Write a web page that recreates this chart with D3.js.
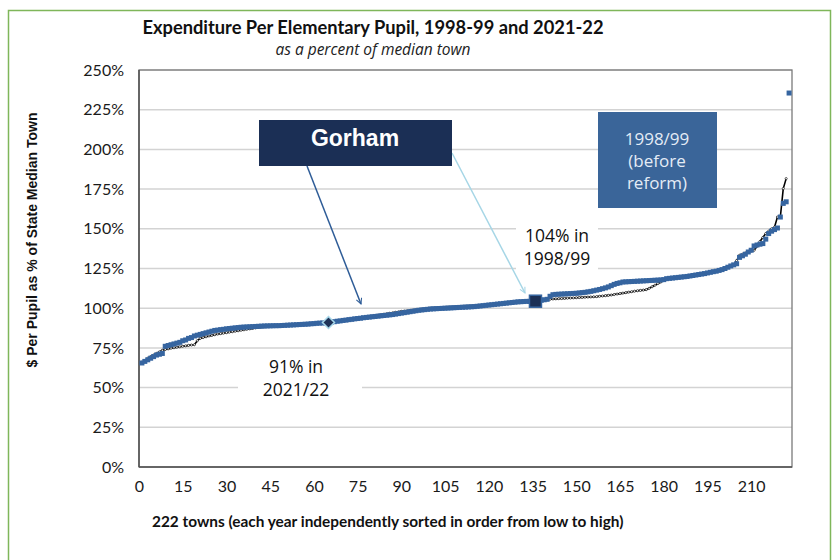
<!DOCTYPE html>
<html>
<head>
<meta charset="utf-8">
<script src="https://cdn.jsdelivr.net/npm/d3@7/dist/d3.min.js"></script>
<style>
  body { margin: 0; background: #fff; }
  svg { display: block; }
</style>
</head>
<body>
<svg id="chart" width="835" height="560"></svg>
<script>
/* Expenditure per elementary pupil, % of median town, towns ranked low to high */

// 1998/99 (before reform) - rank 1..n
const spend1998 = [
  65.5, 66.5, 67.5, 68.5, 69.5, 70.5, 71, 71.5,
  76, 76.5, 77, 77.5, 78, 78.5, 79.5, 80, 81, 81.5, 82.5, 83,
  83.5, 84, 84.5, 85, 85.5, 86, 86.2, 86.5, 86.7, 87, 87.2, 87.4, 87.6, 87.8, 88,
  88.1, 88.2, 88.3, 88.4, 88.5, 88.6, 88.7, 88.8, 88.85, 88.9, 88.95, 89.0, 89.0,
  89.1, 89.2, 89.3, 89.4, 89.5, 89.6, 89.7, 89.8, 89.9, 90.0, 90.2, 90.3, 90.5, 90.6, 90.7, 90.8, 91.0,
  91.2, 91.5, 91.8, 92.0, 92.3, 92.5, 92.8, 93.0, 93.3, 93.5, 93.7, 94.0, 94.2, 94.4,
  94.6, 94.8, 95.0, 95.2, 95.4, 95.6, 95.8, 96.0, 96.3, 96.6, 96.9, 97.2, 97.5, 97.8, 98.1, 98.4, 98.7, 98.9, 99.1, 99.3, 99.5,
  99.6, 99.7, 99.8, 99.9, 100.0, 100.1, 100.2, 100.3, 100.4, 100.5, 100.6, 100.7, 100.8, 100.9, 101.0, 101.2, 101.4, 101.6, 101.8, 102.0, 102.2, 102.4, 102.6, 102.8, 103.0, 103.2, 103.4,
  103.6, 103.8, 104.0, 104.1, 104.2, 104.3, 104.3, 104.4, 104.4, 104.7, 105.0, 105.3, 105.6, 107.5, 108.5,
  108.7, 108.8, 108.9, 109.0, 109.1, 109.2, 109.3, 109.4, 109.6, 109.8, 110.0, 110.3, 110.6, 111.0, 111.4, 111.8, 112.3, 112.8,
  113.4, 114.2, 115.0, 115.6, 116.0, 116.5, 116.6, 116.7, 116.8, 116.9,
  117.0, 117.1, 117.2, 117.3, 117.4, 117.5, 117.6, 117.7, 117.8, 118.0, 118.6,
  118.8, 119.0, 119.2, 119.4, 119.6, 119.8, 120.0, 120.3, 120.6, 120.9, 121.2, 121.5, 121.8, 122.2, 122.6, 123.0, 123.3, 123.8, 124.3, 125.0, 125.8, 126.6, 127.3, 128.0,
  132.0, 133.0, 134.0, 135.4, 136.5, 139.2, 139.8, 140.3, 140.7, 143.5,
  147.0, 148.5, 149.5, 150.5, 157.4, 166.0, 167.0, 235.5
];

// 2021/22 - rank 1..222
const spend2021 = [
  66.0, 67.0, 68.5, 69.5, 70.5, 71.5, 72.5, 73.5,
  74.0, 74.4, 74.8, 75.1, 75.4, 75.7, 76.0, 76.3, 76.6, 76.8, 77.0,
  79.5, 81.0,
  81.5, 82.0, 82.5, 82.9, 83.3, 83.7, 84.0, 84.3, 84.6, 84.9, 85.2, 85.5, 85.8, 86.1, 86.4, 86.7,
  87.0, 87.3, 87.6, 87.9, 88.1, 88.3, 88.5, 88.6, 88.7, 88.8, 88.9,
  89.0, 89.1, 89.2, 89.3, 89.4, 89.5, 89.6, 89.7, 89.8, 89.9, 90.1, 90.2, 90.4, 90.5, 90.6, 90.8, 91.0,
  91.2, 91.5, 91.8, 92.0, 92.3, 92.5, 92.8, 93.0, 93.3, 93.5, 93.8, 94.1, 94.4, 94.7,
  95.0, 95.3, 95.6, 95.9, 96.2, 96.5, 96.8, 97.1, 97.4, 97.7, 98.0, 98.2, 98.4, 98.6, 98.8, 99.0, 99.2, 99.4, 99.6, 99.8, 100.0,
  100.1, 100.2, 100.3, 100.4, 100.5, 100.6, 100.7, 100.8, 100.9, 101.0, 101.1, 101.2, 101.3, 101.4, 101.5, 101.6, 101.7, 101.8, 101.9, 102.0, 102.2, 102.4, 102.6, 102.8, 103.0, 103.2, 103.4,
  103.6, 103.8, 104.0, 104.1, 104.2, 104.3, 104.4, 104.5, 104.6, 104.8, 105.0, 105.2, 105.4, 105.6, 105.8,
  105.9, 106.0, 106.1, 106.2, 106.3, 106.4, 106.5, 106.6, 106.7, 106.8, 106.9, 107.0, 107.1, 107.2, 107.3, 107.5, 107.7, 107.9,
  108.1, 108.3, 108.6, 108.9, 109.2, 109.5, 109.8, 110.1, 110.4, 110.7,
  111.0, 111.2, 111.4, 111.7, 112.5, 113.5, 114.5, 115.5, 116.5, 117.8,
  118.6, 118.8, 119.0, 119.2, 119.4, 119.6, 119.8, 120.0, 120.3, 120.6, 120.9, 121.2, 121.5, 121.8, 122.2, 122.6, 123.0, 123.3, 123.8, 124.3, 125.0, 125.8, 126.5, 127.0,
  130.0, 133.3, 134.0, 134.8, 135.5, 136.0, 136.5, 139.0, 142.0, 144.5, 147.0, 148.5, 150.0, 151.0, 157.4, 157.4, 175.3, 181.6
];

// Gorham's rank in each year
const gorhamRank2021 = 65;
const gorhamRank1998 = 136;

const yTicks = [0, 25, 50, 75, 100, 125, 150, 175, 200, 225, 250];
const xTicks = [0, 15, 30, 45, 60, 75, 90, 105, 120, 135, 150, 165, 180, 195, 210];
const xMax = 224;

const svg = d3.select('#chart');
const plot = { left: 139, right: 792, top: 70, bottom: 467 };

const x = d3.scaleLinear().domain([0, xMax]).range([plot.left, plot.right]);
const y = d3.scaleLinear().domain([0, 250]).range([plot.bottom, plot.top]);

const labelFont = 'Lato, "Open Sans", sans-serif';
const noteFont = '"Open Sans", sans-serif';

// Outer green frame
svg.append('rect')
    .attr('x', 8.5).attr('y', 10.5)
    .attr('width', 822).attr('height', 600)
    .attr('fill', 'none')
    .attr('stroke', '#7FB65A')
    .attr('stroke-width', 1.5);

// Titles
svg.append('text')
    .attr('x', 373).attr('y', 34)
    .attr('text-anchor', 'middle')
    .style('font-family', labelFont)
    .style('font-weight', 700)
    .style('font-size', '18.3px')
    .attr('fill', '#111')
    .text('Expenditure Per Elementary Pupil, 1998-99 and 2021-22');

svg.append('text')
    .attr('x', 373).attr('y', 55)
    .attr('text-anchor', 'middle')
    .style('font-family', noteFont)
    .style('font-style', 'italic')
    .style('font-size', '15.5px')
    .attr('fill', '#222')
    .text('as a percent of median town');

// Grid
svg.append('g')
    .selectAll('line')
    .data(yTicks.filter(d => d > 0))
    .join('line')
    .attr('x1', plot.left).attr('x2', plot.right)
    .attr('y1', d => y(d)).attr('y2', d => y(d))
    .attr('stroke', '#D3D3D3')
    .attr('stroke-width', 1.5);

// White label backgrounds (they cut the grid)
svg.append('rect').attr('x', 516).attr('y', 212).attr('width', 82).attr('height', 72).attr('fill', '#fff');
svg.append('rect').attr('x', 238).attr('y', 353).attr('width', 124).attr('height', 58).attr('fill', '#fff');

// Plot frame
svg.append('rect')
    .attr('x', plot.left).attr('y', plot.top)
    .attr('width', plot.right - plot.left)
    .attr('height', plot.bottom - plot.top)
    .attr('fill', 'none')
    .attr('stroke', '#7A7A7A')
    .attr('stroke-width', 1.3);

svg.append('line')
    .attr('x1', plot.left).attr('x2', plot.left)
    .attr('y1', plot.top).attr('y2', plot.bottom)
    .attr('stroke', '#505050').attr('stroke-width', 1.5);
svg.append('line')
    .attr('x1', plot.left).attr('x2', plot.right)
    .attr('y1', plot.bottom).attr('y2', plot.bottom)
    .attr('stroke', '#505050').attr('stroke-width', 1.5);

// Axes
const yAxis = svg.append('g')
    .attr('transform', `translate(${plot.left},0)`)
    .call(d3.axisLeft(y).tickValues(yTicks).tickFormat(d => d + '%').tickSize(0).tickPadding(15));
const xAxis = svg.append('g')
    .attr('transform', `translate(0,${plot.bottom})`)
    .call(d3.axisBottom(x).tickValues(xTicks).tickSize(0).tickPadding(14));

[yAxis, xAxis].forEach(a => {
    a.select('.domain').remove();
    a.selectAll('text')
        .style('font-family', labelFont)
        .style('font-size', '16px')
        .attr('fill', '#1a1a1a');
});

svg.append('text')
    .attr('transform', 'translate(37,240) rotate(-90)')
    .attr('text-anchor', 'middle')
    .style('font-family', '"Liberation Sans", Arial, sans-serif')
    .style('font-weight', 700)
    .style('font-size', '14px')
    .attr('fill', '#111')
    .text('$ Per Pupil as % of State Median Town');

svg.append('text')
    .attr('x', 152).attr('y', 527)
    .style('font-family', labelFont)
    .style('font-weight', 700)
    .style('font-size', '15.4px')
    .attr('fill', '#111')
    .text('222 towns (each year independently sorted in order from low to high)');

// 2021/22 series: thin black line with small hollow markers
const line = d3.line()
    .x((d, i) => x(i + 1))
    .y(d => y(d));

svg.append('path')
    .datum(spend2021)
    .attr('d', line)
    .attr('fill', 'none')
    .attr('stroke', '#000')
    .attr('stroke-width', 1.6);

svg.append('g')
    .selectAll('circle')
    .data(spend2021)
    .join('circle')
    .attr('cx', (d, i) => x(i + 1))
    .attr('cy', d => y(d))
    .attr('r', 1.1)
    .attr('fill', '#fff')
    .attr('stroke', '#000')
    .attr('stroke-width', 0.6);

// 1998/99 series: dense square markers
const sq = 5;
svg.append('g')
    .selectAll('rect')
    .data(spend1998)
    .join('rect')
    .attr('x', (d, i) => x(i + 1) - sq / 2)
    .attr('y', d => y(d) - sq / 2)
    .attr('width', sq)
    .attr('height', sq)
    .attr('fill', '#3665A0');

// Gorham markers
const gx21 = x(gorhamRank2021), gy21 = y(spend2021[gorhamRank2021 - 1]);
svg.append('path')
    .attr('d', `M${gx21},${gy21 - 6}L${gx21 + 6},${gy21}L${gx21},${gy21 + 6}L${gx21 - 6},${gy21}Z`)
    .attr('fill', '#1F3358')
    .attr('stroke', '#A8D8EA')
    .attr('stroke-width', 1.5);

const gx98 = x(gorhamRank1998), gy98 = y(spend1998[gorhamRank1998 - 1]);
svg.append('rect')
    .attr('x', gx98 - 6).attr('y', gy98 - 6)
    .attr('width', 12).attr('height', 12)
    .attr('fill', '#1B2F55')
    .attr('stroke', '#3665A0')
    .attr('stroke-width', 1.5);

// Arrow heads
const defs = svg.append('defs');
[['arrowDark', '#2E5C97'], ['arrowLight', '#A6D6E6']].forEach(([id, c]) => {
    defs.append('marker')
        .attr('id', id)
        .attr('viewBox', '0 0 10 10')
        .attr('refX', 9).attr('refY', 5)
        .attr('markerWidth', 7).attr('markerHeight', 7)
        .attr('markerUnits', 'userSpaceOnUse')
        .attr('orient', 'auto')
        .append('path')
        .attr('d', 'M1,1L9,5L1,9')
        .attr('fill', 'none')
        .attr('stroke', c)
        .attr('stroke-width', 1.5);
});

svg.append('line')
    .attr('x1', 307).attr('y1', 166).attr('x2', 361).attr('y2', 304)
    .attr('stroke', '#2E5C97').attr('stroke-width', 1.5)
    .attr('marker-end', 'url(#arrowDark)');
svg.append('line')
    .attr('x1', 452).attr('y1', 153).attr('x2', 525).attr('y2', 293)
    .attr('stroke', '#A6D6E6').attr('stroke-width', 1.5)
    .attr('marker-end', 'url(#arrowLight)');

// Gorham box
svg.append('rect')
    .attr('x', 259).attr('y', 120).attr('width', 193).attr('height', 46)
    .attr('fill', '#1B2F55');
svg.append('text')
    .attr('x', 355).attr('y', 146)
    .attr('text-anchor', 'middle')
    .style('font-family', '"Liberation Sans", Arial, sans-serif')
    .style('font-weight', 700)
    .style('font-size', '23px')
    .attr('fill', '#fff')
    .text('Gorham');

// 1998/99 legend box
svg.append('rect')
    .attr('x', 598).attr('y', 112).attr('width', 119).attr('height', 96)
    .attr('fill', '#3A6599');
['1998/99', '(before', 'reform)'].forEach((t, i) => {
    svg.append('text')
        .attr('x', 657).attr('y', 145 + i * 22)
        .attr('text-anchor', 'middle')
        .style('font-family', noteFont)
        .style('font-size', '17px')
        .attr('fill', '#E4ECF6')
        .text(t);
});

// Value notes
function note(cx, cy, lines) {
    lines.forEach((t, i) => {
        svg.append('text')
            .attr('x', cx).attr('y', cy + i * 23)
            .attr('text-anchor', 'middle')
            .style('font-family', noteFont)
            .style('font-size', '17.5px')
            .attr('fill', '#111')
            .text(t);
    });
}
note(557, 242, ['104% in', '1998/99']);
note(296, 373, ['91% in', '2021/22']);
</script>
</body>
</html>
